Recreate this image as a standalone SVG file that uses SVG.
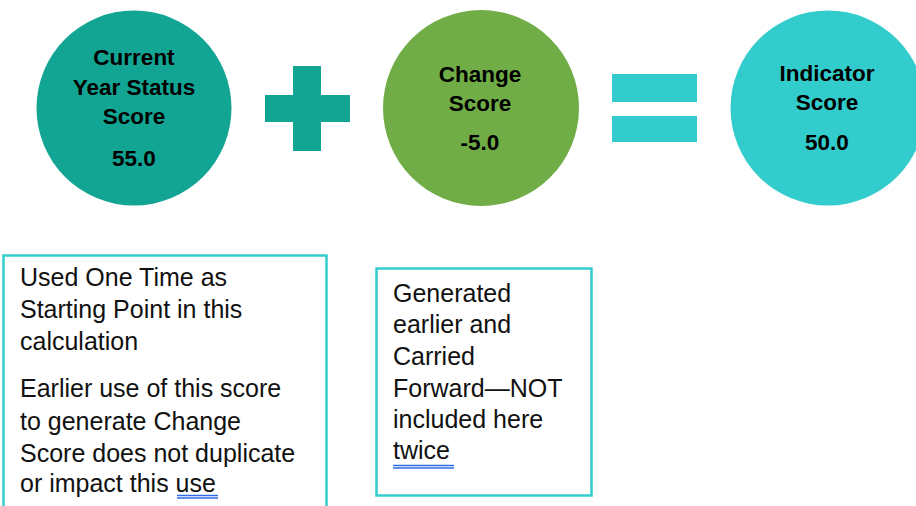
<svg xmlns="http://www.w3.org/2000/svg" width="916" height="506" viewBox="0 0 916 506">
<style>
.ct{font-family:"Liberation Sans",Arial,sans-serif;font-weight:bold;font-size:22.5px;fill:#000;text-anchor:middle}
.bt{font-family:"Liberation Sans",Arial,sans-serif;font-size:25px;fill:#111}
.box{fill:#fff;stroke:#33CCCC;stroke-width:2.5}
.ul{stroke:#2F6BE8;stroke-width:1.3}
</style>
<rect width="916" height="506" fill="#fff"/>
<g id="current">
<circle cx="134" cy="108" r="97.5" fill="#12A593"/>
<text class="ct" x="134" y="65">Current</text>
<text class="ct" x="134" y="95">Year Status</text>
<text class="ct" x="134" y="124">Score</text>
<text class="ct" x="134" y="166">55.0</text>
</g>
<g id="plus" fill="#12A593">
<rect x="293" y="66" width="28" height="85"/>
<rect x="265" y="95" width="85" height="27"/>
</g>
<g id="change">
<circle cx="481" cy="108" r="98" fill="#70AD47"/>
<text class="ct" x="480" y="82">Change</text>
<text class="ct" x="480" y="111">Score</text>
<text class="ct" x="480" y="150">-5.0</text>
</g>
<g id="equals" fill="#33CCCC">
<rect x="612" y="74" width="85" height="28"/>
<rect x="612" y="116" width="85" height="26"/>
</g>
<g id="indicator">
<circle cx="828" cy="108" r="97.5" fill="#33CCCC"/>
<text class="ct" x="827" y="81">Indicator</text>
<text class="ct" x="827" y="110">Score</text>
<text class="ct" x="827" y="150">50.0</text>
</g>
<g id="note1">
<rect class="box" x="3.5" y="255.5" width="323" height="260"/>
<text class="bt" x="20" y="286">Used One Time as</text>
<text class="bt" x="20" y="318">Starting Point in this</text>
<text class="bt" x="20" y="350">calculation</text>
<text class="bt" x="20" y="397">Earlier use of this score</text>
<text class="bt" x="20" y="430">to generate Change</text>
<text class="bt" x="20" y="462">Score does not duplicate</text>
<text class="bt" x="20" y="492">or impact this use</text>
<line class="ul" x1="177" y1="495.5" x2="218" y2="495.5"/>
<line class="ul" x1="177" y1="498" x2="218" y2="498"/>
</g>
<g id="note2">
<rect class="box" x="376.5" y="268.5" width="215" height="227"/>
<text class="bt" x="393" y="302">Generated</text>
<text class="bt" x="393" y="333">earlier and</text>
<text class="bt" x="393" y="365">Carried</text>
<text class="bt" x="393" y="397">Forward—NOT</text>
<text class="bt" x="393" y="428">included here</text>
<text class="bt" x="393" y="459">twice</text>
<line class="ul" x1="393" y1="465.5" x2="454" y2="465.5"/>
<line class="ul" x1="393" y1="468" x2="454" y2="468"/>
</g>
<g id="connectors"/>
</svg>
